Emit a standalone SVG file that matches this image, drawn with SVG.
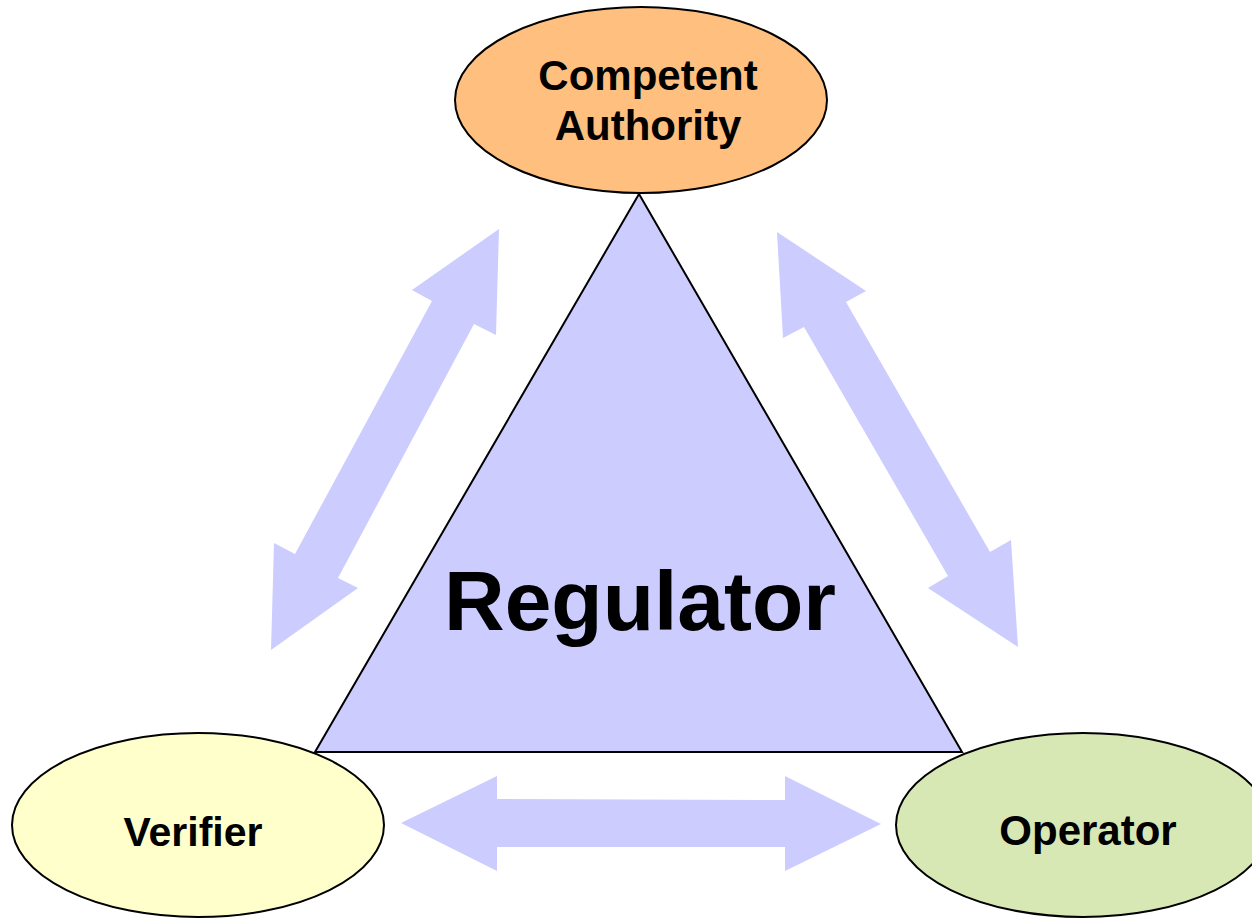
<svg xmlns="http://www.w3.org/2000/svg" width="1252" height="918" viewBox="0 0 1252 918">
<style>
.arrow{fill:#CCCCFF;stroke:none}
.node{stroke:#000;stroke-width:2}
.lbl{font-family:"Liberation Sans",Arial,sans-serif;font-weight:bold;fill:#000;text-anchor:middle}
</style>
<rect width="1252" height="918" fill="#fff"/>
<g id="connectors">
<polygon class="arrow" points="499,229 412,290 432,301 295,554 274,543 271,650 358,588 338,578 474,324 496,335"/>
<polygon class="arrow" points="777,232 866,291 846,302 990,552 1011,540 1018,647 928,588 948,576 804,327 783,338"/>
<polygon class="arrow" points="401,823 497,776 497,799 785,800 785,776 881,824 785,871 785,847 497,847 497,871"/>
</g>
<g id="regulator">
<polygon class="node" fill="#CCCCFF" points="639,194 315,752 962,752"/>
<text class="lbl" x="640" y="630" font-size="84">Regulator</text>
</g>
<g id="competent-authority">
<ellipse class="node" fill="#FFBF7F" cx="641" cy="100" rx="186" ry="93"/>
<text class="lbl" font-size="42"><tspan x="648" y="90">Competent</tspan><tspan x="648" y="140">Authority</tspan></text>
</g>
<g id="verifier">
<ellipse class="node" fill="#FFFFCC" cx="198" cy="825" rx="186" ry="92"/>
<text class="lbl" x="193" y="846" font-size="41">Verifier</text>
</g>
<g id="operator">
<ellipse class="node" fill="#D8E8B4" cx="1083" cy="825" rx="187" ry="92"/>
<text class="lbl" x="1088" y="845" font-size="42">Operator</text>
</g>
</svg>
